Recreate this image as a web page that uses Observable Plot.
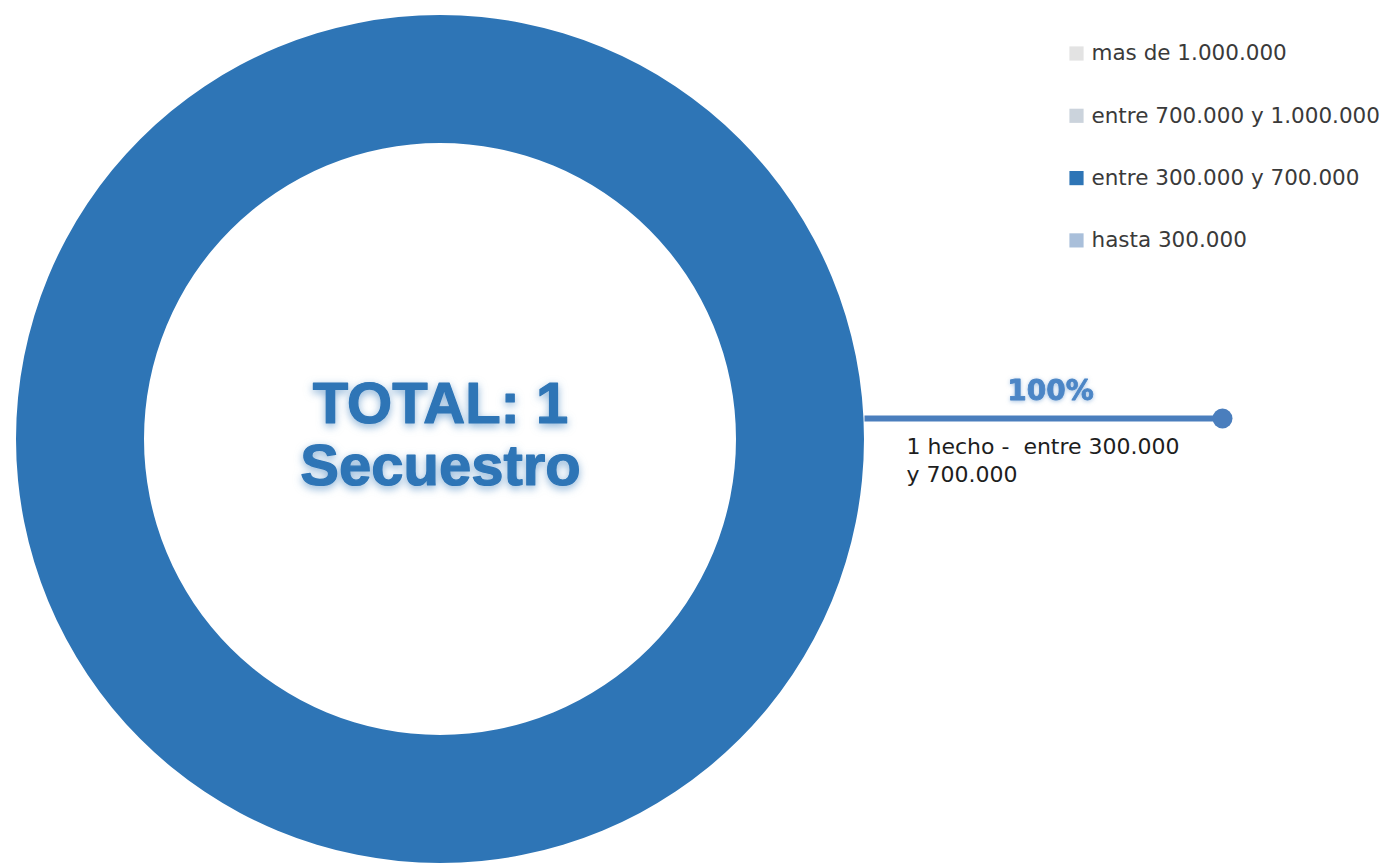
<!DOCTYPE html>
<html>
<head>
<meta charset="utf-8">
<script src="https://cdn.jsdelivr.net/npm/d3@7"></script>
<script src="https://cdn.jsdelivr.net/npm/@observablehq/plot@0.6"></script>
<style>
  html, body { margin: 0; padding: 0; background: #ffffff; }
  #chart svg { display: block; }
</style>
</head>
<body>
<div id="chart"></div>
<script>
// ---- Data ----
const categories = ["mas de 1.000.000", "entre 700.000 y 1.000.000", "entre 300.000 y 700.000", "hasta 300.000"];
const values = [0, 0, 1, 0];
const colors = ["#E3E3E3", "#CBD3DC", "#2E75B6", "#A9BFDA"];
const totalLabel = "TOTAL: 1";
const totalSub = "Secuestro";
const unitLabel = "hecho";

// ---- Layout ----
const W = 1396, H = 864;
const cx = 440, cy = 439, rOuter = 424, rInner = 296;

const data = categories.map((c, i) => ({category: c, value: values[i], color: colors[i], i}));
const total = d3.sum(values);
const pie = d3.pie().sort(null).value(d => d.value);
const arcs = pie(data);

// main (non-zero) slice for label
const main = arcs.find(a => a.data.value > 0);
const labelData = [{
  pct: d3.format(".0%")(main.data.value / total),
  text: `${main.data.value} ${unitLabel} -  ${main.data.category}`.replace(" y ", "\ny ")
}];

const legendY = i => 53 + i * 62.3;

function donutMark(index, scales) {
  const X = scales.x ? scales.x(cx) : cx;
  const Y = scales.y ? scales.y(cy) : cy;
  const g = d3.create("svg:g").attr("transform", `translate(${X},${Y})`);
  const arc = d3.arc().innerRadius(rInner).outerRadius(rOuter);
  g.selectAll("path")
    .data(arcs.filter(a => a.data.value > 0))
    .join("path")
    .attr("d", arc)
    .attr("fill", d => d.data.color);
  return g.node();
}

const leaderX1 = cx + rOuter;
const leaderX2 = 1222;
const leaderY = 418;

const chart = Plot.plot({
  width: W,
  height: H,
  margin: 0,
  x: {type: "identity", axis: null},
  y: {type: "identity", axis: null},
  style: {background: "#ffffff"},
  marks: [
    donutMark,
    // leader line and end dot
    Plot.link(labelData, {x1: () => leaderX1, x2: () => leaderX2, y1: () => leaderY, y2: () => leaderY,
      stroke: "#4A7EBD", strokeWidth: 6}),
    Plot.dot(labelData, {x: () => leaderX2, y: () => leaderY, r: 10, fill: "#4A7EBD"}),
    // percentage
    Plot.text(labelData, {x: () => 1050, y: () => 391, text: "pct", fontSize: 28, fontWeight: "bold",
      fontFamily: "DejaVu Sans", fill: "#4C86C6", stroke: "#4C86C6", strokeWidth: 0.8, textAnchor: "middle"}),
    // category label
    Plot.text(labelData, {x: () => 906, y: () => 434, text: "text", fontSize: 22, fontFamily: "DejaVu Sans",
      fill: "#1e1e1e", textAnchor: "start", lineAnchor: "top", lineHeight: 1.25}),
    // center text
    Plot.text([totalLabel], {x: () => cx, y: () => 404, text: d => d, fontSize: 58, fontWeight: "bold",
      fontFamily: "Liberation Sans", fill: "#2E75B6", stroke: "#2E75B6", strokeWidth: 1.2, textAnchor: "middle"}),
    Plot.text([totalSub], {x: () => cx, y: () => 466, text: d => d, fontSize: 58, fontWeight: "bold",
      fontFamily: "Liberation Sans", fill: "#2E75B6", stroke: "#2E75B6", strokeWidth: 1.2, textAnchor: "middle"}),
    // legend
    Plot.dot(data, {x: () => 1076, y: d => legendY(d.i), symbol: "square", r: 8, fill: "color"}),
    Plot.text(data, {x: () => 1091, y: d => legendY(d.i), text: "category", fontSize: 21.5,
      fontFamily: "DejaVu Sans", fill: "#3a3a3a", textAnchor: "start"})
  ]
});

// glow on central texts and percentage
d3.select(chart).selectAll("text").each(function() {
  const t = this.textContent;
  if (t === totalLabel || t === totalSub) {
    d3.select(this).style("filter", "drop-shadow(0px 3px 4px rgba(46,117,182,0.55))");
  } else if (/%$/.test(t)) {
    d3.select(this).style("filter", "drop-shadow(0px 1px 2px rgba(76,134,198,0.5))");
  }
});

document.getElementById("chart").appendChild(chart);
</script>
</body>
</html>
